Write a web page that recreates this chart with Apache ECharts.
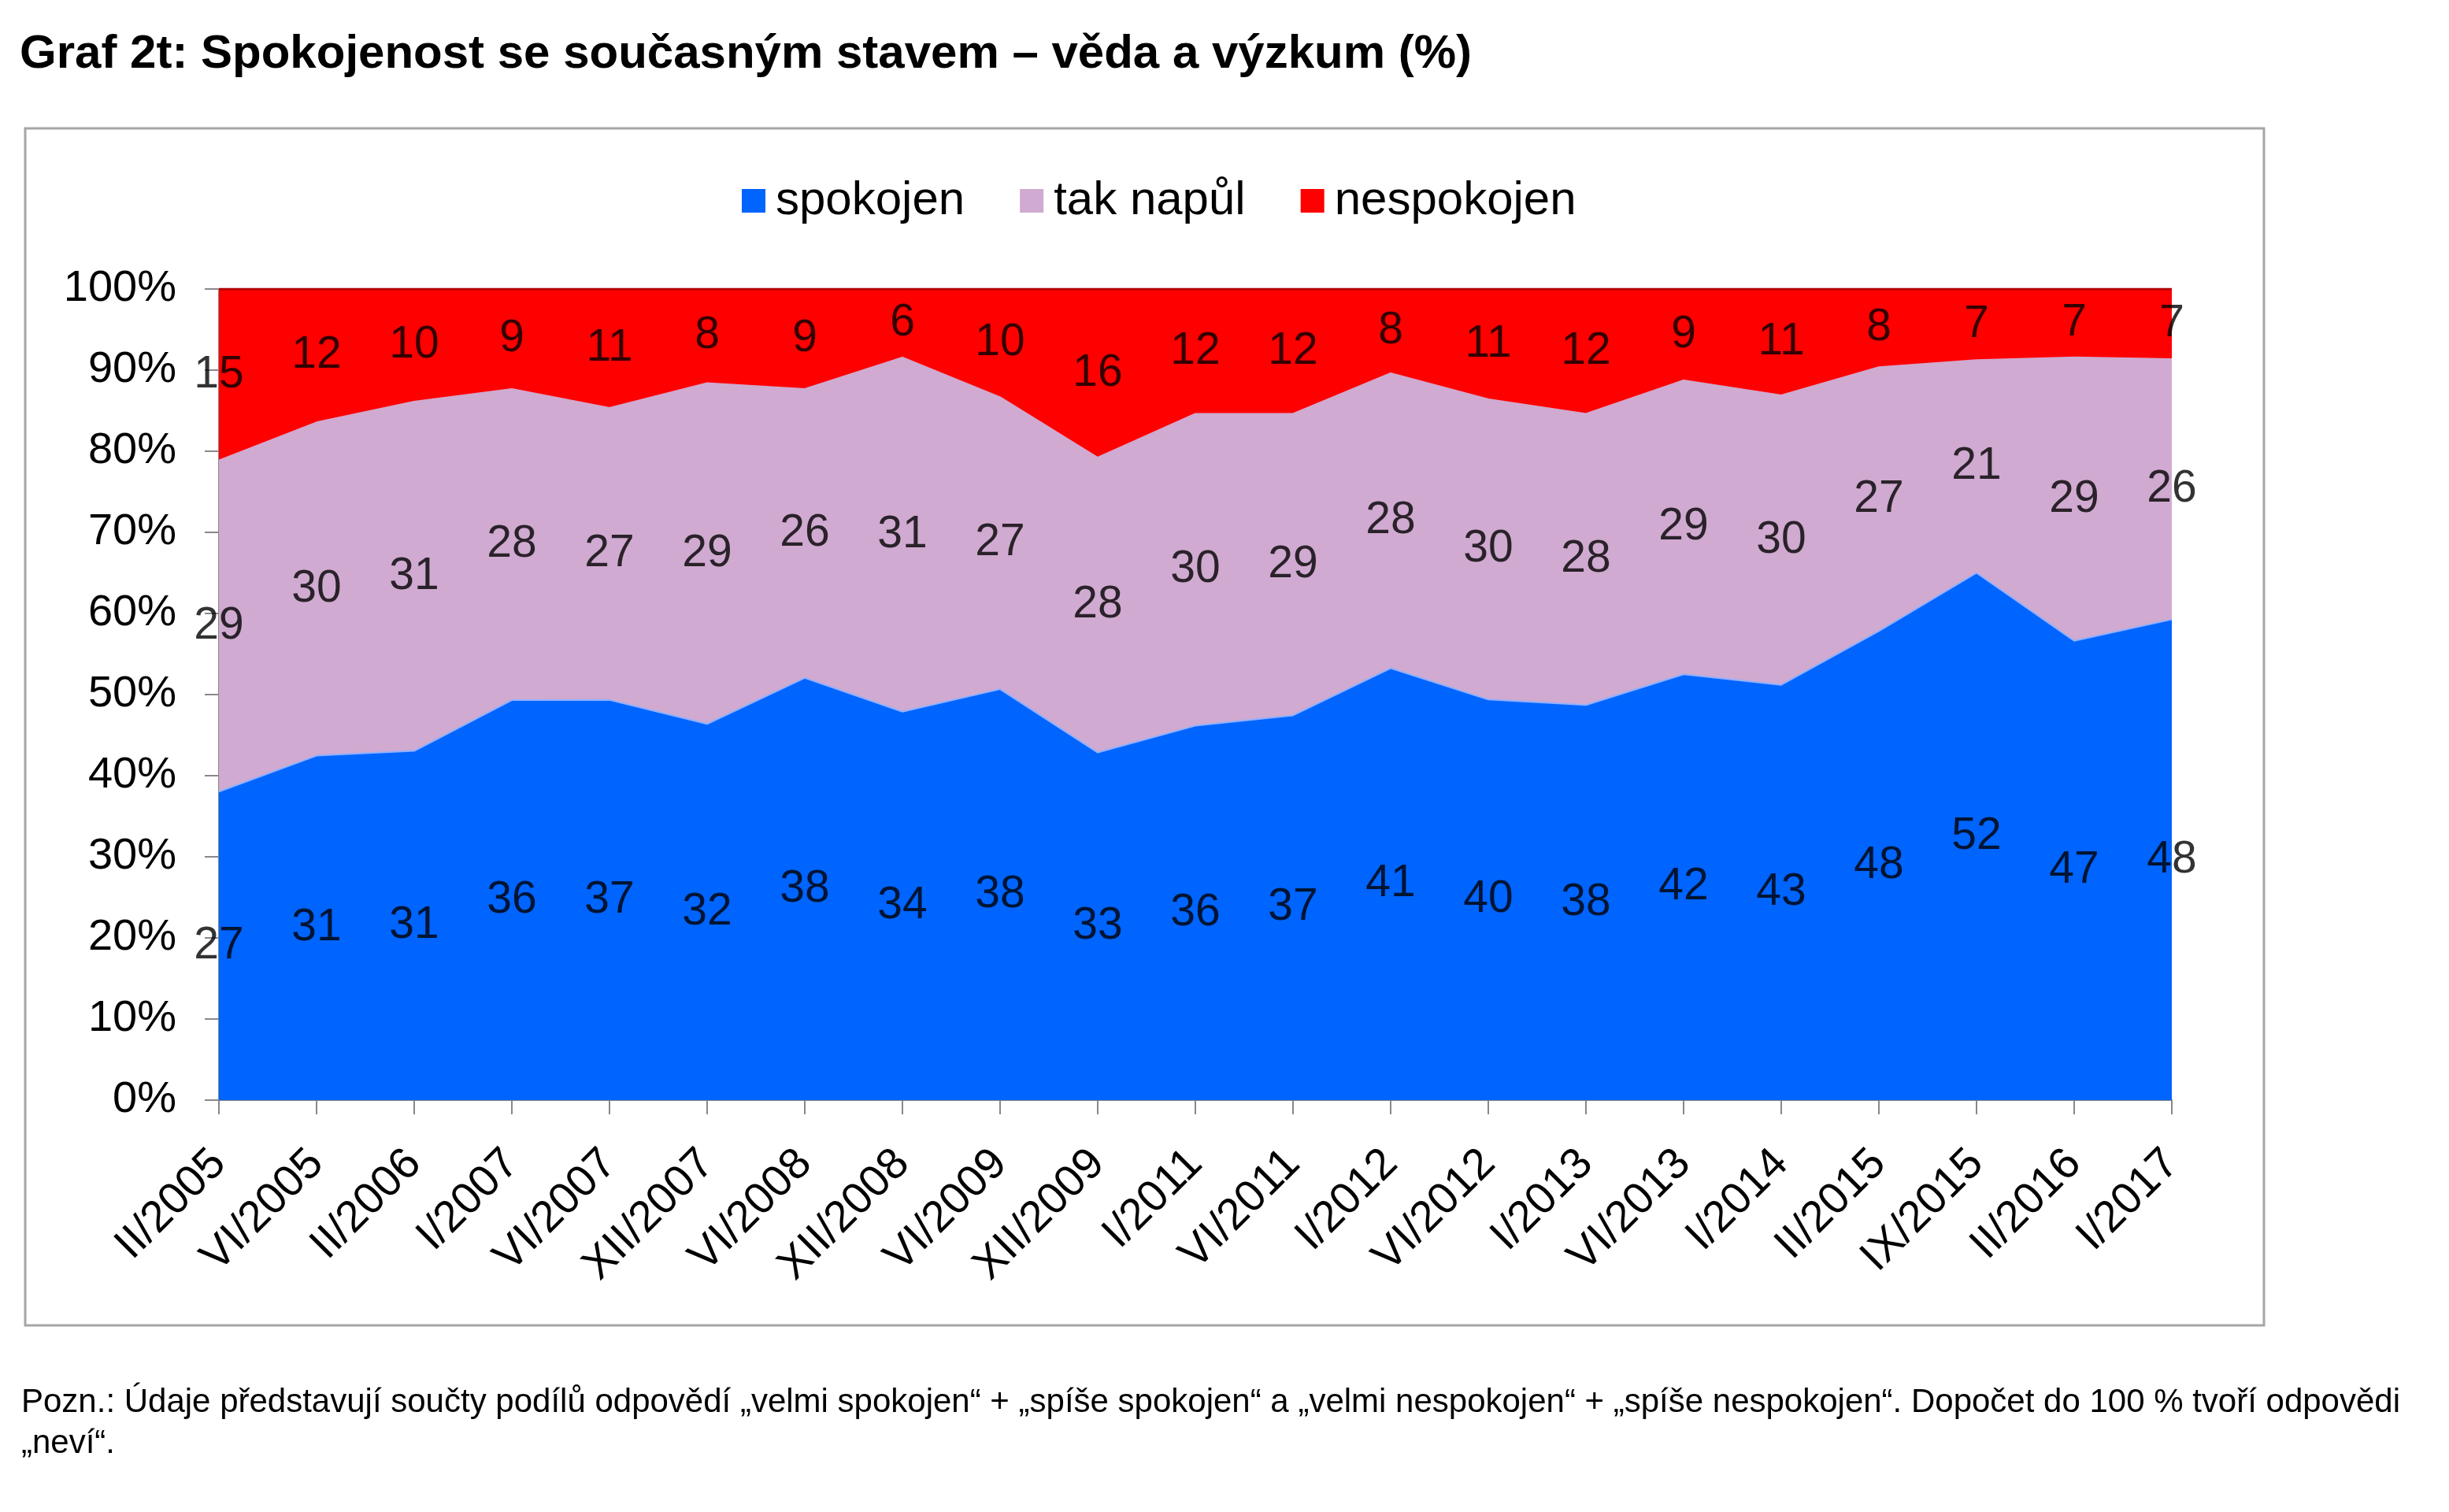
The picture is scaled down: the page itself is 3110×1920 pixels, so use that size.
<!DOCTYPE html>
<html>
<head>
<meta charset="utf-8">
<title>Graf 2t</title>
<script src="https://cdn.jsdelivr.net/npm/echarts@6/dist/echarts.min.js"></script>
<style>
  html, body { margin: 0; padding: 0; background: #fff; }
  #chart { width: 3110px; height: 1920px; }
</style>
</head>
<body>
<div id="chart"></div>
<script>
// období šetření
const categories = ['II/2005', 'VI/2005', 'II/2006', 'I/2007', 'VI/2007', 'XII/2007', 'VI/2008', 'XII/2008',
  'VI/2009', 'XII/2009', 'I/2011', 'VI/2011', 'I/2012', 'VI/2012', 'I/2013', 'VI/2013', 'I/2014',
  'II/2015', 'IX/2015', 'II/2016', 'I/2017']

// hodnoty v % (zbytek do 100 = "neví")
const spokojen   = [27, 31, 31, 36, 37, 32, 38, 34, 38, 33, 36, 37, 41, 40, 38, 42, 43, 48, 52, 47, 48]
const takNapul   = [29, 30, 31, 28, 27, 29, 26, 31, 27, 28, 30, 29, 28, 30, 28, 29, 30, 27, 21, 29, 26]
const nespokojen = [15, 12, 10,  9, 11,  8,  9,  6, 10, 16, 12, 12,  8, 11, 12,  9, 11,  8,  7,  7,  7]

const yTicks = [0, 10, 20, 30, 40, 50, 60, 70, 80, 90, 100]

const seriesNames = ['spokojen', 'tak napůl', 'nespokojen']
const rawSeries = [spokojen, takNapul, nespokojen]
const colors = ['#0064FF', '#D0AAD0', '#FF0000']

const FONT = '"Liberation Sans", Arial, Helvetica, sans-serif'

// graf je 100% skládaný - přepočet na podíly z odpovědí bez "neví"
const totals = categories.map((c, i) => spokojen[i] + takNapul[i] + nespokojen[i])
const shares = rawSeries.map(arr => arr.map((v, i) => v / totals[i] * 100))

// střed každého pásu pro popisky
const mids = shares.map((arr, s) => arr.map((v, i) => {
  let base = 0
  for (let k = 0; k < s; k++) base += shares[k][i]
  return base + v / 2
}))

const chart = echarts.init(document.getElementById('chart'))

const areaSeries = seriesNames.map((name, s) => ({
  name: name,
  type: 'line',
  stack: 'total',
  data: shares[s],
  symbol: 'none',
  areaStyle: { color: colors[s], opacity: 1 },
  lineStyle: s === 2 ? { color: '#b00000', width: 3 } : { color: s === 0 ? '#8fb0ff' : colors[s], width: 2 },
  itemStyle: { color: colors[s] },
  z: 2
}))

const labelSeries = seriesNames.map((name, s) => ({
  name: name + '-label',
  type: 'scatter',
  data: mids[s],
  symbolSize: 0,
  silent: true,
  z: 10,
  label: {
    show: true,
    position: 'inside',
    color: '#000',
    fontFamily: FONT,
    fontSize: 57,
    formatter: p => rawSeries[s][p.dataIndex]
  }
}))

chart.setOption({
  animation: false,
  title: [
    {
      text: 'Graf 2t: Spokojenost se současným stavem – věda a výzkum (%)',
      left: 20,
      top: 34,
      textStyle: { fontFamily: FONT, fontSize: 60, fontWeight: 'bold', color: '#000' }
    },
    {
      text: 'Pozn.: Údaje představují součty podílů odpovědí „velmi spokojen“ + „spíše spokojen“ a „velmi nespokojen“ + „spíše nespokojen“. Dopočet do 100 % tvoří odpovědi\n„neví“.',
      left: 22,
      top: 1750,
      textStyle: { fontFamily: FONT, fontSize: 42, fontWeight: 'normal', color: '#000', lineHeight: 52 }
    }
  ],
  graphic: [
    {
      type: 'rect',
      z: -10,
      shape: { x: 32, y: 163, width: 2843, height: 1520 },
      style: { fill: 'none', stroke: '#a6a6a6', lineWidth: 3 }
    }
  ],
  legend: {
    data: seriesNames,
    top: 220,
    left: 937,
    icon: 'rect',
    itemWidth: 30,
    itemHeight: 30,
    itemGap: 70,
    textStyle: { fontFamily: FONT, fontSize: 60, color: '#000', padding: [0, 0, 0, 8] }
  },
  grid: { left: 278, right: 352, top: 367, bottom: 523 },
  xAxis: {
    type: 'category',
    data: categories,
    boundaryGap: false,
    axisLine: { lineStyle: { color: '#888', width: 2 } },
    axisTick: { show: true, length: 18, lineStyle: { color: '#888', width: 2 } },
    axisLabel: {
      rotate: 45,
      margin: 72,
      interval: 0,
      fontFamily: FONT,
      fontSize: 56,
      color: '#000'
    }
  },
  yAxis: {
    type: 'value',
    min: yTicks[0],
    max: yTicks[yTicks.length - 1],
    interval: 10,
    splitLine: { show: false },
    axisLine: { show: true, lineStyle: { color: '#888', width: 2 } },
    axisTick: { show: true, length: 18, lineStyle: { color: '#888', width: 2 } },
    axisLabel: {
      margin: 54,
      fontFamily: FONT,
      fontSize: 56,
      color: '#000',
      formatter: '{value}%'
    }
  },
  series: areaSeries.concat(labelSeries)
})
</script>
</body>
</html>
